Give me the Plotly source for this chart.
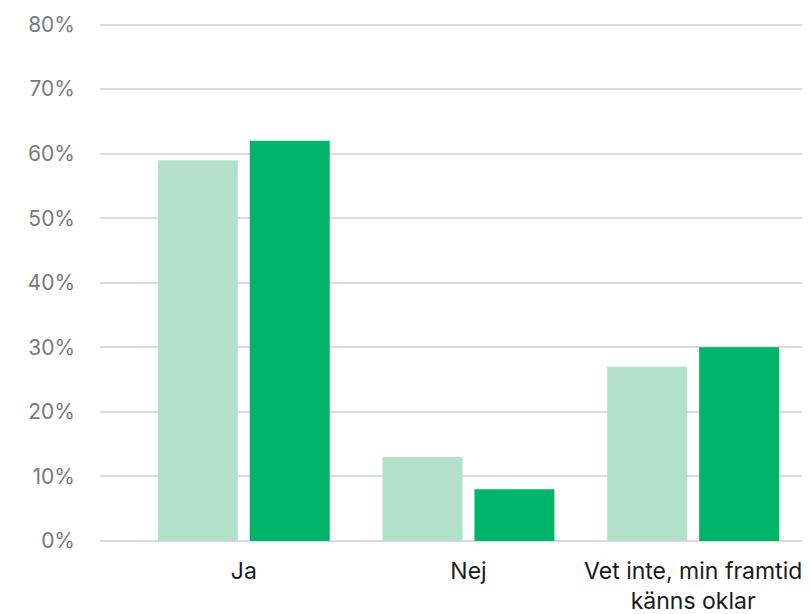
import plotly.graph_objects as go

categories = ["Ja", "Nej", "Vet inte, min framtid<br>känns oklar"]
series_a = [59, 13, 27]
series_b = [62, 8, 30]
y_ticks = [0, 10, 20, 30, 40, 50, 60, 70, 80]
y_tick_labels = [f"{v}%" for v in y_ticks]

fig = go.Figure()
fig.add_trace(go.Bar(x=categories, y=series_a, name="Serie A",
                     marker=dict(color="#b3e0c9", line=dict(width=0))))
fig.add_trace(go.Bar(x=categories, y=series_b, name="Serie B",
                     marker=dict(color="#00b469", line=dict(width=0))))

fig.update_layout(
    width=802, height=606,
    margin=dict(l=92, r=0, t=14, b=73),
    paper_bgcolor="white", plot_bgcolor="white",
    barmode="group", bargap=0.182, bargroupgap=0.13,
    showlegend=False,
    font=dict(family="Inter", color="#1a1a1a"),
)
fig.update_xaxes(
    range=[-0.64, 2.52], showgrid=False, showline=False, zeroline=False,
    ticks="", tickfont=dict(size=23, color="#1a1a1a", family="Inter"),
    ticklabelstandoff=14, automargin=False,
)
fig.update_yaxes(
    range=[0, 80.4], tickmode="array", tickvals=y_ticks, ticktext=y_tick_labels,
    showgrid=True, gridcolor="#dcdcdc", gridwidth=1.5,
    zeroline=True, zerolinecolor="#dcdcdc", zerolinewidth=1.5,
    showline=False, ticks="",
    tickfont=dict(size=21, color="#7a7a7a", family="Inter"),
    ticklabelstandoff=24, automargin=False,
)

fig.write_html("out.html")
